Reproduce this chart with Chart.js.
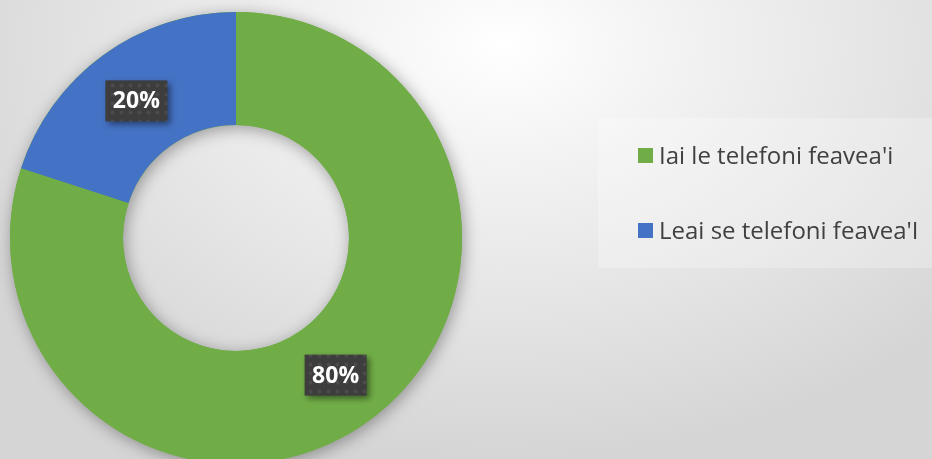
<!DOCTYPE html>
<html>
<head>
<meta charset="utf-8">
<script src="https://cdn.jsdelivr.net/npm/chart.js@4"></script>
<style>
  html, body { margin: 0; padding: 0; overflow: hidden; }
  body {
    width: 932px; height: 459px;
    background: radial-gradient(ellipse 65% 90% at 54% 10%, #ffffff 0%, #f4f4f4 25%, #e6e6e6 60%, #d5d5d5 100%);
  }
  canvas { display: block; }
</style>
</head>
<body>
<canvas id="myChart" width="932" height="470"></canvas>
<script>
// chart data
const labels = ["Iai le telefoni feavea'i", "Leai se telefoni feavea'I"];
const values = [80, 20];
const colors = ['#70ad47', '#4472c4'];
const valueLabels = values.map(v => v + '%');

// dotted dark pattern for the value boxes
function makePattern(ctx) {
  const c = document.createElement('canvas');
  c.width = 9; c.height = 9;
  const p = c.getContext('2d');
  p.fillStyle = '#3d3d3d';
  p.fillRect(0, 0, 9, 9);
  p.fillStyle = '#4b4b4b';
  p.beginPath();
  p.arc(4.5, 4.5, 2, 0, Math.PI * 2);
  p.fill();
  return ctx.createPattern(c, 'repeat');
}

// soft shadow under the ring
const ringShadow = {
  id: 'ringShadow',
  beforeDatasetsDraw(chart) {
    const arc = chart.getDatasetMeta(0).data[0];
    if (!arc) return;
    const ctx = chart.ctx;
    const { x, y, outerRadius, innerRadius } = arc.getProps(['x', 'y', 'outerRadius', 'innerRadius'], true);
    ctx.save();
    ctx.shadowColor = 'rgba(0,0,0,0.35)';
    ctx.shadowBlur = 16;
    ctx.shadowOffsetX = 2;
    ctx.shadowOffsetY = 3;
    ctx.beginPath();
    ctx.arc(x, y, outerRadius, 0, Math.PI * 2);
    ctx.arc(x, y, innerRadius, 0, Math.PI * 2, true);
    ctx.fillStyle = colors[0];
    ctx.fill();
    ctx.restore();
  }
};

// value boxes
const valueBoxes = {
  id: 'valueBoxes',
  afterDatasetsDraw(chart) {
    const ctx = chart.ctx;
    const pattern = makePattern(ctx);
    chart.getDatasetMeta(0).data.forEach((arc, i) => {
      const pt = arc.getCenterPoint();
      const w = 62, h = 41;
      ctx.save();
      ctx.shadowColor = 'rgba(0,0,0,0.45)';
      ctx.shadowBlur = 6;
      ctx.shadowOffsetX = 3;
      ctx.shadowOffsetY = 3;
      ctx.fillStyle = pattern;
      ctx.fillRect(pt.x - w / 2, pt.y - h / 2, w, h);
      ctx.restore();
      ctx.save();
      ctx.fillStyle = '#ffffff';
      ctx.font = 'bold 23px "Open Sans"';
      ctx.textAlign = 'center';
      ctx.textBaseline = 'middle';
      ctx.fillText(valueLabels[i], pt.x, pt.y + 1);
      ctx.restore();
    });
  }
};

// legend panel on the right
const sideLegend = {
  id: 'sideLegend',
  afterDraw(chart) {
    const ctx = chart.ctx;
    ctx.save();
    ctx.fillStyle = 'rgba(255,255,255,0.25)';
    ctx.fillRect(598, 118, 334, 150);
    ctx.font = '24px "Open Sans"';
    ctx.textBaseline = 'alphabetic';
    labels.forEach((lab, i) => {
      const top = 148 + i * 75;
      ctx.fillStyle = colors[i];
      ctx.fillRect(638, top, 15, 15);
      ctx.fillStyle = '#404040';
      ctx.fillText(lab, 659, top + 16);
    });
    ctx.restore();
  }
};

var ctx = document.getElementById('myChart').getContext('2d');
var myChart = new Chart(ctx, {
  type: 'doughnut',
  data: {
    labels: labels,
    datasets: [{
      data: values,
      backgroundColor: colors,
      borderWidth: 0
    }]
  },
  options: {
    responsive: false,
    animation: false,
    cutout: '50%',
    layout: {
      padding: { left: 10, top: 12, right: 470, bottom: 6 }
    },
    plugins: {
      legend: { display: false },
      tooltip: { enabled: false }
    }
  },
  plugins: [ringShadow, valueBoxes, sideLegend]
});
</script>
</body>
</html>
